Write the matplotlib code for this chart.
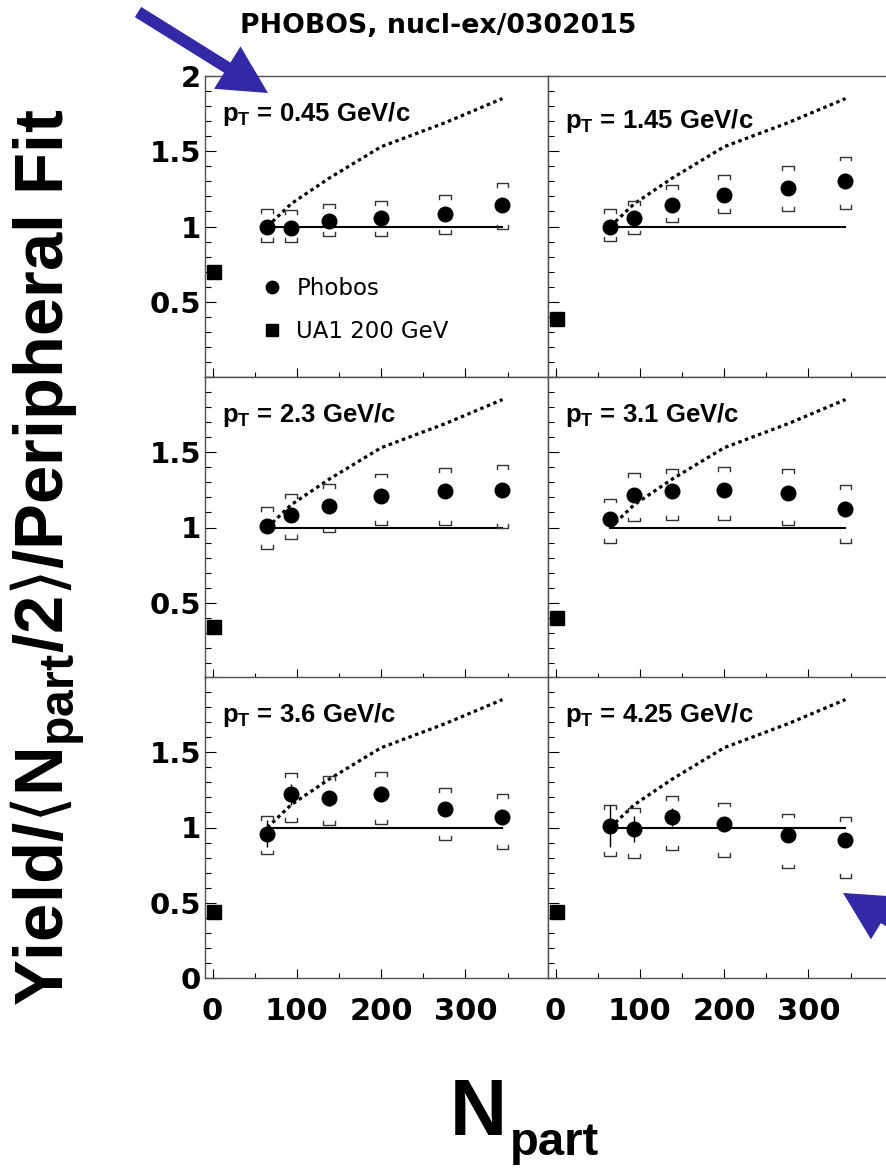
import numpy as np
import matplotlib.pyplot as plt
from matplotlib.patches import FancyArrow
from matplotlib.ticker import MultipleLocator

plt.rcParams['font.family'] = ['DejaVu Sans']
plt.rcParams['mathtext.fontset'] = 'custom'
plt.rcParams['mathtext.rm'] = 'DejaVu Sans'
plt.rcParams['mathtext.it'] = 'DejaVu Sans'
plt.rcParams['mathtext.bf'] = 'Liberation Sans:bold'
plt.rcParams['mathtext.default'] = 'rm'

# centrality bins (Npart) and the Ncoll-scaling expectation
npart = [65, 93, 138, 200, 276, 344]
ncoll_scaling = [1.0, 1.15, 1.32, 1.53, 1.69, 1.85]
pt_labels = ['0.45', '1.45', '2.3', '3.1', '3.6', '4.25']

yield_ratio = [
    [1.00, 0.99, 1.035, 1.055, 1.08, 1.145],
    [1.00, 1.055, 1.145, 1.21, 1.255, 1.30],
    [1.01, 1.085, 1.145, 1.21, 1.24, 1.25],
    [1.055, 1.215, 1.24, 1.25, 1.23, 1.12],
    [0.96, 1.22, 1.195, 1.22, 1.12, 1.07],
    [1.01, 0.99, 1.07, 1.02, 0.95, 0.92],
]
stat_err = [
    [0.02, 0.02, 0.02, 0.02, 0.02, 0.02],
    [0.02, 0.02, 0.02, 0.02, 0.02, 0.02],
    [0.02, 0.02, 0.02, 0.02, 0.02, 0.02],
    [0.03, 0.03, 0.02, 0.02, 0.02, 0.02],
    [0.09, 0.07, 0.05, 0.04, 0.03, 0.03],
    [0.14, 0.085, 0.06, 0.04, 0.03, 0.03],
]
sys_hi = [
    [1.117, 1.11, 1.15, 1.17, 1.21, 1.29],
    [1.117, 1.168, 1.274, 1.342, 1.40, 1.464],
    [1.137, 1.22, 1.287, 1.358, 1.393, 1.413],
    [1.192, 1.36, 1.387, 1.40, 1.387, 1.28],
    [1.077, 1.362, 1.34, 1.368, 1.262, 1.22],
    [1.148, 1.13, 1.21, 1.166, 1.093, 1.07],
]
sys_lo = [
    [0.897, 0.897, 0.936, 0.94, 0.95, 0.985],
    [0.905, 0.947, 1.029, 1.09, 1.106, 1.117],
    [0.857, 0.923, 0.967, 1.018, 1.018, 0.996],
    [0.90, 1.04, 1.049, 1.049, 1.018, 0.90],
    [0.821, 1.037, 1.015, 1.026, 0.916, 0.856],
    [0.811, 0.80, 0.85, 0.805, 0.729, 0.666],
]
ua1_npart = 2
ua1_ratio = [0.70, 0.385, 0.342, 0.40, 0.44, 0.44]

W, H = 886, 1169
fig = plt.figure(figsize=(W / 100, H / 100), dpi=100)

col_left = [205, 548]
row_top = [76, 377, 677]
pw, ph = 343, 301
frame_col = '#505050'

for i in range(6):
    r, c = divmod(i, 2)
    ax = fig.add_axes([col_left[c] / W, 1 - (row_top[r] + ph) / H, pw / W, ph / H])

    ax.plot(npart, ncoll_scaling, ls=(0, (1.1, 1.1)), lw=2.3, color='k')
    ax.plot([npart[0], npart[-1]], [1, 1], color='k', lw=1.5)
    for n, hi, lo in zip(npart, sys_hi[i], sys_lo[i]):
        ax.plot([n - 7, n - 7, n + 7, n + 7], [hi - 0.025, hi, hi, hi - 0.025],
                color='#333333', lw=1)
        ax.plot([n - 7, n - 7, n + 7, n + 7], [lo + 0.025, lo, lo, lo + 0.025],
                color='#333333', lw=1)
    ax.errorbar(npart, yield_ratio[i], yerr=stat_err[i], fmt='none',
                ecolor='k', elinewidth=1, capsize=0)
    h_pho, = ax.plot(npart, yield_ratio[i], 'o', ms=10.5, color='k', label='Phobos')
    h_ua1, = ax.plot([ua1_npart], [ua1_ratio[i]], 's', ms=9.5, color='k',
                     label='UA1 200 GeV')

    ax.text(0.05, 0.827 if i == 1 else 0.85, 'p$_\\mathbf{T}$ = ' + pt_labels[i] + ' GeV/c',
            transform=ax.transAxes, fontsize=18.5, family='Liberation Sans',
            weight='bold', va='baseline')

    ax.set_xlim(-9, 398)
    ax.set_ylim(0, 2)
    ax.xaxis.set_major_locator(MultipleLocator(100))
    ax.xaxis.set_minor_locator(MultipleLocator(50))
    ax.yaxis.set_minor_locator(MultipleLocator(0.1))
    ax.tick_params(which='both', direction='in', top=False, right=False,
                   color='k', width=0.8)
    ax.tick_params(axis='y', which='major', length=8, pad=3, labelsize=21)
    ax.tick_params(axis='y', which='minor', length=4)
    ax.tick_params(axis='x', which='major', length=6.5, pad=14, labelsize=22)
    ax.tick_params(axis='x', which='minor', length=3.5)
    for s in ax.spines.values():
        s.set_color(frame_col)
        s.set_linewidth(1.0)

    yt = [0, 0.5, 1, 1.5, 2]
    if c == 1:
        ax.set_yticks(yt, [''] * 5)
    elif r == 0:
        ax.set_yticks(yt, ['', '0.5', '1', '1.5', '2'])
    elif r == 1:
        ax.set_yticks(yt, ['', '0.5', '1', '1.5', ''])
    else:
        ax.set_yticks(yt, ['0', '0.5', '1', '1.5', ''])
    for lab in ax.get_yticklabels():
        lab.set_fontweight('bold')
    if r < 2:
        ax.tick_params(axis='x', labelbottom=False)
    else:
        ax.set_xticks([0, 100, 200, 300], ['0', '100', '200', '300'])
        for lab in ax.get_xticklabels():
            lab.set_fontweight('bold')

    if i == 0:
        ax.legend(handles=[h_pho, h_ua1], loc='upper left', bbox_to_anchor=(0.163, 0.332),
                  frameon=False, fontsize=16.5, handlelength=1.0, handletextpad=0.55,
                  labelspacing=0.88, borderpad=0, borderaxespad=0, markerscale=0.85,
                  numpoints=1)

fig.text(240 / W, 1 - 33 / H, 'PHOBOS, nucl-ex/0302015', fontsize=19.3,
         fontweight='bold', ha='left', va='baseline')
fig.text(48 / W, 0.5235, 'Yield/$\\langle$N$_\\mathbf{part}$/2$\\rangle$/Peripheral Fit',
         rotation=90, ha='center', va='center', fontsize=49.5,
         family='Liberation Sans', weight='bold')
fig.text(450 / W, 1 - 1135 / H, 'N', fontsize=57, family='Liberation Sans',
         weight='bold', va='baseline')
fig.text(510 / W, 1 - 1155 / H, 'part', fontsize=34, family='Liberation Sans',
         weight='bold', va='baseline')

# blue pointer arrows
ov = fig.add_axes([0, 0, 1, 1], zorder=10)
ov.set_xlim(0, W)
ov.set_ylim(H, 0)
ov.axis('off')
arrow_col = '#3328a5'
ov.add_patch(FancyArrow(138, 12, 130, 81, width=12, head_width=50, head_length=48,
                        length_includes_head=True, color=arrow_col, lw=0))
ov.add_patch(FancyArrow(971, 971, -128, -78, width=12, head_width=50, head_length=48,
                        length_includes_head=True, color=arrow_col, lw=0))

fig.savefig('out.png', dpi=100)
